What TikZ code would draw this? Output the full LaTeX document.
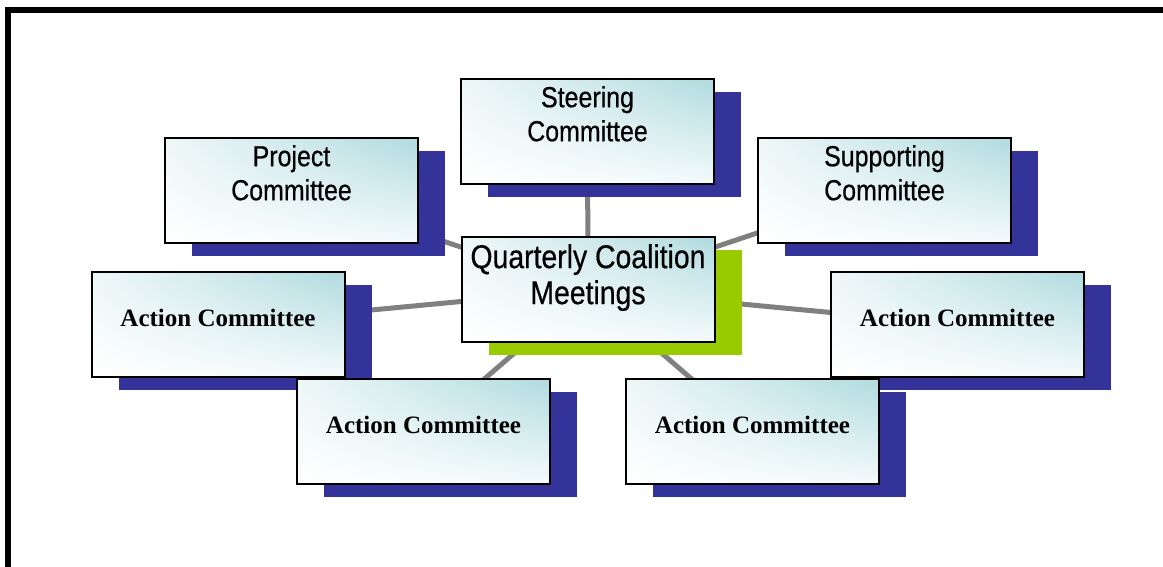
\documentclass[tikz,border=0pt]{standalone}
\usepackage{fontspec}
\usepackage{xcolor}
\usepackage{tikz}
\usetikzlibrary{positioning,shadows,shadings,backgrounds}

\newfontfamily\narrowsf[FakeStretch=0.86,FakeBold=0.5]{Liberation Sans}
\newfontfamily\timesrm{Liberation Serif}

\definecolor{shadowblue}{RGB}{51,51,153}
\definecolor{limegreen}{RGB}{153,204,0}
\definecolor{linegray}{RGB}{128,128,128}
\definecolor{boxteal}{RGB}{176,219,223}
\definecolor{boxpale}{RGB}{238,247,248}
\definecolor{boxpale2}{RGB}{244,250,251}

\begin{document}
\begin{tikzpicture}[x=1pt, y=-1pt,
  box/.style={rectangle, draw=black, line width=2pt, inner sep=0pt,
    minimum width=253pt, minimum height=105pt,
    shade, upper left=boxpale, upper right=boxteal,
    lower left=white, lower right=boxpale2},
  bluebox/.style={box, drop shadow={shadow xshift=27pt, shadow yshift=-13pt,
    fill=shadowblue, opacity=1}},
  greenbox/.style={box, drop shadow={shadow xshift=27pt, shadow yshift=-13pt,
    fill=limegreen, opacity=1}},
  sanstext/.style={inner sep=0pt, align=center, text=black,
    font=\narrowsf\fontsize{29}{34}\selectfont},
  bigtext/.style={inner sep=0pt, align=center, text=black,
    font=\narrowsf\fontsize{33}{36}\selectfont},
  actiontext/.style={inner sep=0pt, text=black,
    font=\timesrm\bfseries\fontsize{25}{30}\selectfont},
  link/.style={draw=linegray, line width=5pt}]
  \useasboundingbox (0,0) rectangle (1163,566);
  % frame, cut at right and bottom
  \draw[line width=6pt, line join=miter] (8,600) -- (8,10) -- (1200,10);

  \node[bluebox] (steer) at (587.5,131.5) {};
  \node[sanstext, below=8pt of steer.north] (steer-txt) {Steering\\Committee};
  \node[bluebox] (proj) at (291.5,190.5) {};
  \node[sanstext, below=8pt of proj.north] (proj-txt) {Project\\Committee};
  \node[bluebox] (supp) at (884.5,190.5) {};
  \node[sanstext, below=8pt of supp.north] (supp-txt) {Supporting\\Committee};
  \node[greenbox] (quart) at (588,289.5) {};
  \node[bigtext, below=8pt of quart.north] (quart-txt) {Quarterly Coalition\\Meetings};
  \node[bluebox] (actl) at (218,324.5) {};
  \node[actiontext, below=38pt of actl.north] (actl-txt) {Action Committee};
  \node[bluebox] (actr) at (957.5,324.5) {};
  \node[actiontext, below=38pt of actr.north] (actr-txt) {Action Committee};
  \node[bluebox] (actll) at (423.5,431.5) {};
  \node[actiontext, below=38pt of actll.north] (actll-txt) {Action Committee};
  \node[bluebox] (actlr) at (752.5,431.5) {};
  \node[actiontext, below=38pt of actlr.north] (actlr-txt) {Action Committee};

  \begin{scope}[on background layer]
    \foreach \b in {steer,proj,supp,actl,actr,actll,actlr}
      \draw[link] (quart.center) -- (\b.center);
  \end{scope}
\end{tikzpicture}
\end{document}
